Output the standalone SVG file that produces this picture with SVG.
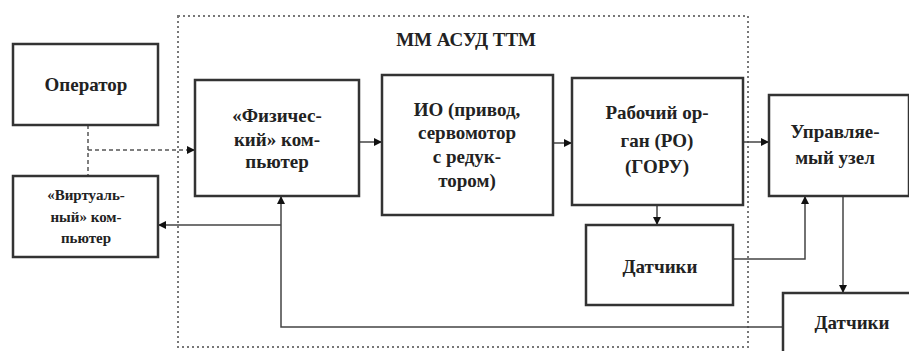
<svg xmlns="http://www.w3.org/2000/svg" width="909" height="351" viewBox="0 0 909 351">
<defs>
<style>
.box{fill:#fff;stroke:#333;stroke-width:2.5}
.t{font-family:'Liberation Serif','DejaVu Serif','Times New Roman',serif;font-weight:bold;font-size:19px;fill:#222;text-anchor:middle}
.s{font-size:15px}
.ln{fill:none;stroke:#444;stroke-width:1.5}
.dash{fill:none;stroke:#555;stroke-width:1.5;stroke-dasharray:4 3}
.dot{fill:none;stroke:#777;stroke-width:2;stroke-dasharray:2 3}
</style>
<marker id="ar" viewBox="0 0 10 10" refX="10" refY="5" markerWidth="8" markerHeight="8" markerUnits="userSpaceOnUse" orient="auto"><path d="M0,0L10,5L0,10z" fill="#111"/></marker>
</defs>
<rect width="909" height="351" fill="#fff"/>
<g id="container">
<rect x="178" y="16" width="570" height="331" class="dot"/>
<text x="466" y="46" class="t">ММ АСУД ТТМ</text>
</g>
<g id="connectors">
<path class="dash" d="M88,125V176"/>
<path class="dash" d="M88,150H195" marker-end="url(#ar)"/>
<path class="ln" d="M359,142H382" marker-end="url(#ar)"/>
<path class="ln" d="M553,143H572" marker-end="url(#ar)"/>
<path class="ln" d="M743,142H769" marker-end="url(#ar)"/>
<path class="ln" d="M657,205V225" marker-end="url(#ar)"/>
<path class="ln" d="M733,259H805V196" marker-end="url(#ar)"/>
<path class="ln" d="M843,196V293" marker-end="url(#ar)"/>
<path class="ln" d="M783,327H281V196" marker-end="url(#ar)"/>
<path class="ln" d="M281,225H158" marker-end="url(#ar)"/>
</g>
<g id="operator">
<rect x="13" y="44" width="145" height="81" class="box"/>
<text x="86" y="91" class="t">Оператор</text>
</g>
<g id="virtual">
<rect x="13" y="176" width="145" height="81" class="box"/>
<text class="t s" x="86" y="200">«Виртуаль-</text>
<text class="t s" x="86" y="222">ный» ком-</text>
<text class="t s" x="86" y="243">пьютер</text>
</g>
<g id="physical">
<rect x="195" y="80" width="164" height="116" class="box"/>
<text class="t" x="277" y="122">«Физичес-</text>
<text class="t" x="277" y="146">кий» ком-</text>
<text class="t" x="277" y="168">пьютер</text>
</g>
<g id="io">
<rect x="382" y="75" width="171" height="140" class="box"/>
<text class="t" x="467" y="116">ИО (привод,</text>
<text class="t" x="467" y="139">сервомотор</text>
<text class="t" x="467" y="163">с редук-</text>
<text class="t" x="467" y="187">тором)</text>
</g>
<g id="work">
<rect x="572" y="78" width="171" height="127" class="box"/>
<text class="t" x="657" y="119">Рабочий ор-</text>
<text class="t" x="657" y="147">ган (РО)</text>
<text class="t" x="657" y="173">(ГОРУ)</text>
</g>
<g id="controlled">
<rect x="769" y="95" width="140" height="101" class="box"/>
<text class="t" x="835" y="138">Управляе-</text>
<text class="t" x="835" y="164">мый узел</text>
</g>
<g id="sensors1">
<rect x="586" y="225" width="147" height="80" class="box"/>
<text class="t" x="660" y="273">Датчики</text>
</g>
<g id="sensors2">
<rect x="783" y="293" width="130" height="70" class="box"/>
<text class="t" x="852" y="329">Датчики</text>
</g>
</svg>
